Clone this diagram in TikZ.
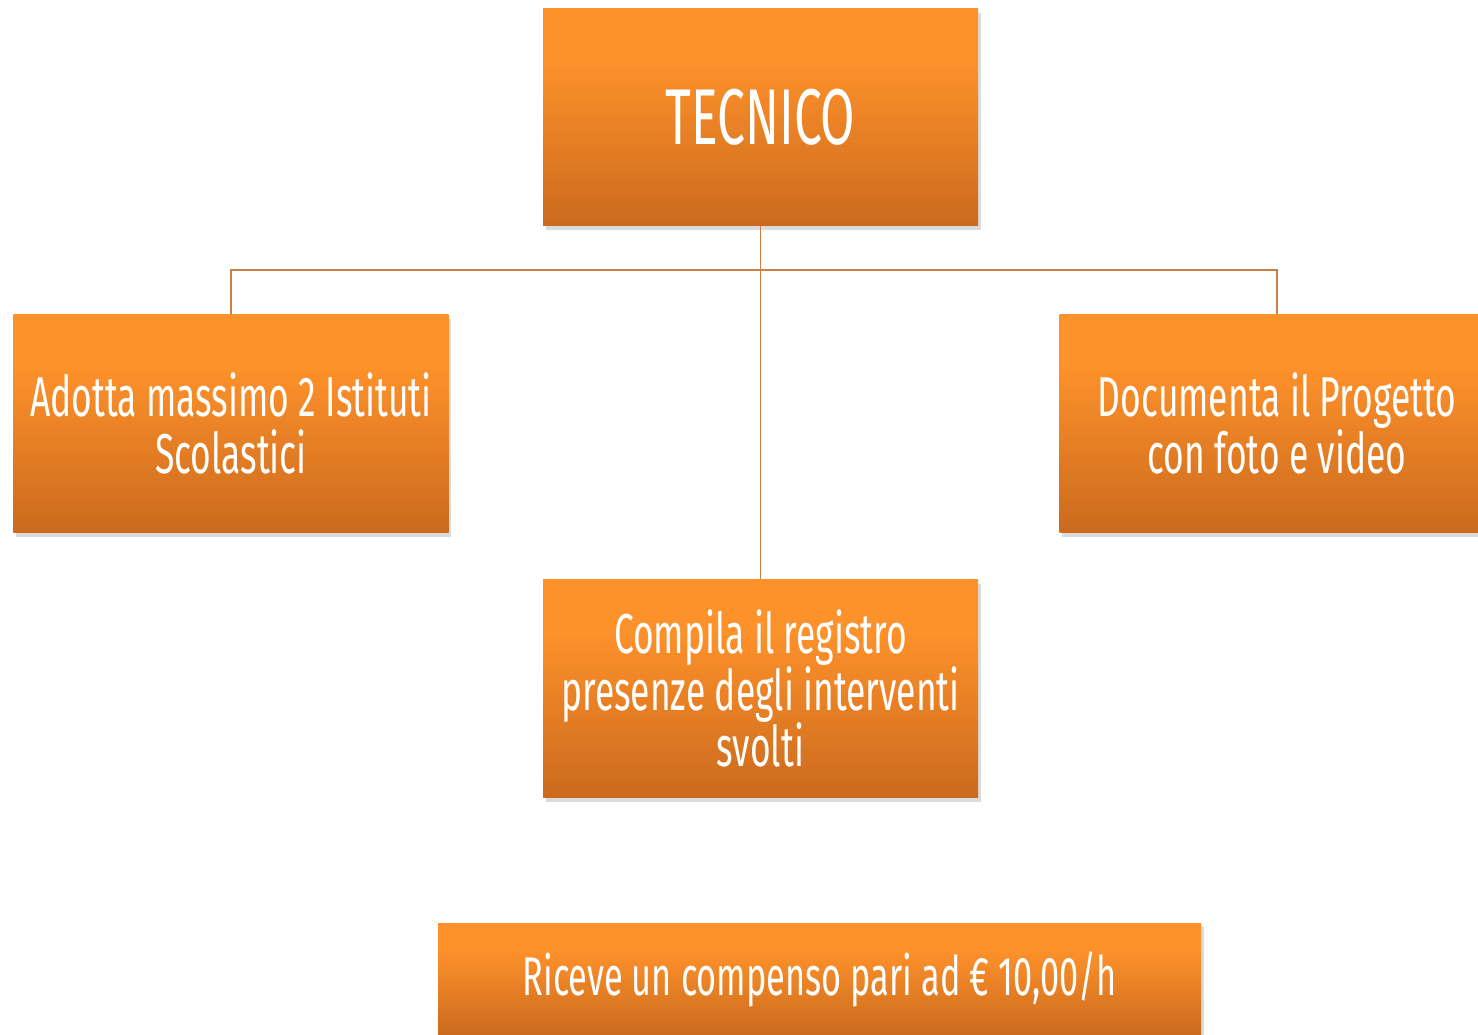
\documentclass[tikz,border=0pt]{standalone}
\usepackage{fontspec}
\setmainfont[FakeStretch=0.63]{Fira Sans}
\usepackage{tikz}
\usepackage{xcolor}
\usetikzlibrary{positioning,shadows}
\definecolor{orange-top}{RGB}{253,145,42}
\definecolor{orange-bottom}{RGB}{203,106,30}
\definecolor{link-brown}{RGB}{200,128,70}
\pgfdeclareverticalshading{orange-fade}{100bp}{color(0bp)=(orange-bottom); color(25bp)=(orange-bottom); color(63bp)=(orange-top); color(100bp)=(orange-top)}
\tikzset{
    orange-box/.style = {rectangle, minimum width=8.7cm, minimum height=4.35cm, shading=orange-fade, text=white, align=center, inner sep=2pt, font=\fontsize{32}{32}\selectfont, drop shadow={shadow xshift=1.5pt, shadow yshift=-2.5pt, opacity=0.2, fill=black!70}},
    title-text/.style = {font=\fontsize{45}{45}\selectfont},
    link-line/.style = {draw=link-brown, line width=1.1pt},
}

\begin{document}
\begin{tikzpicture}
\useasboundingbox (0,0) rectangle (29.56,-20.7);
\node[orange-box, title-text] (tecnico) at (15.21,-2.34) {TECNICO};
\node[orange-box] (adotta) at (4.62,-8.47) {Adotta massimo 2 Istituti\\Scolastici};
\node[orange-box] (documenta) at (25.54,-8.47) {Documenta il Progetto\\con foto e video};
\node[orange-box] (compila) at (15.21,-13.77) {Compila il registro\\presenze degli interventi\\svolti};
\node[orange-box, minimum width=15.26cm, minimum height=2.26cm, font=\fontsize{31}{31}\selectfont] (riceve) at (16.39,-19.59) {Riceve un compenso pari ad € 10,00/h};
% connectors
\coordinate[below=0.88cm of tecnico.south] (split);
\draw[link-line] (tecnico.south) -- (compila.north);
\draw[link-line] (adotta.north) |- (split) -| (documenta.north);
\end{tikzpicture}
\end{document}
